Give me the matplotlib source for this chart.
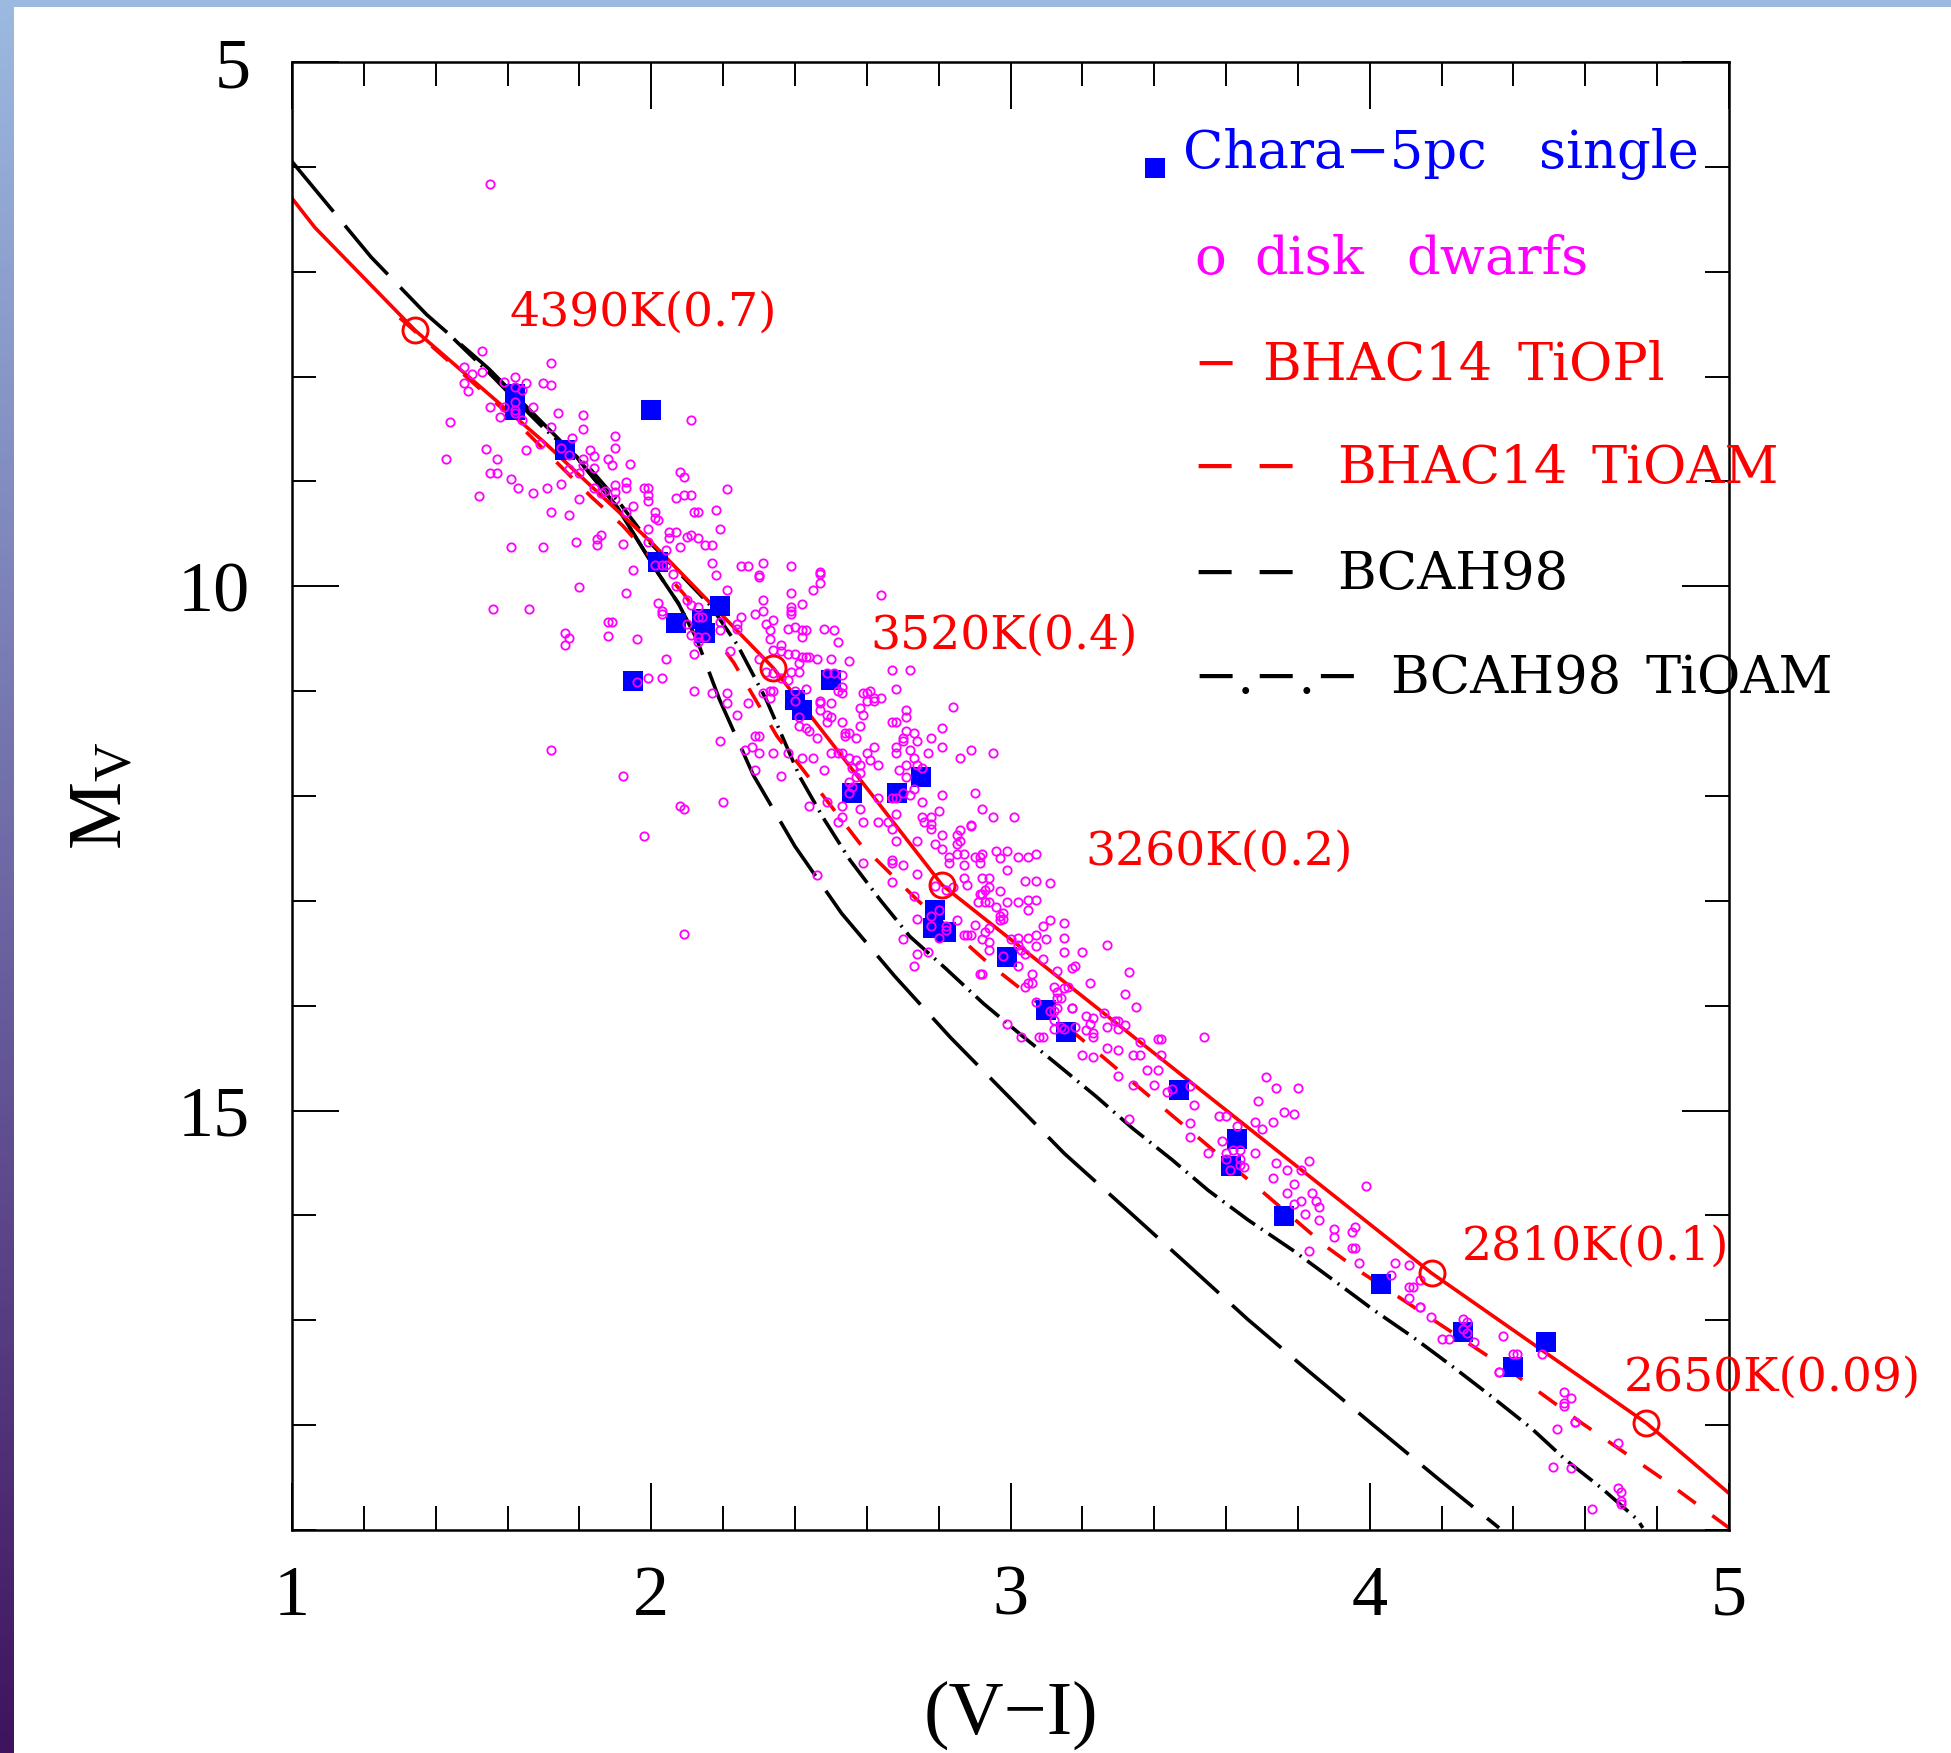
import numpy as np
import matplotlib.pyplot as plt
from matplotlib.colors import LinearSegmentedColormap
from matplotlib.patches import Rectangle

plt.rcParams['font.family'] = ['Liberation Serif', 'DejaVu Serif']
plt.rcParams['mathtext.fontset'] = 'custom'
plt.rcParams['mathtext.rm'] = 'Liberation Serif'
plt.rcParams['mathtext.it'] = 'Liberation Serif:italic'

# ---------------- data: (V-I) colour vs absolute magnitude M_V ----------------

# CHARA 5pc single stars
chara_vi = [1.62, 1.62, 2.00, 1.76, 2.02, 2.19, 2.07, 2.14, 2.15, 1.95, 2.50, 2.40,
            2.42, 2.75, 2.56, 2.685, 2.79, 2.785, 2.82, 2.99, 3.10, 3.154, 3.47,
            3.63, 3.615, 3.76, 4.03, 4.26, 4.49, 4.40]
chara_mv = [8.17, 8.32, 8.32, 8.70, 9.77, 10.19, 10.35, 10.31, 10.45, 10.90, 10.89, 11.08,
            11.18, 11.82, 11.97, 11.97, 13.09, 13.26, 13.30, 13.54, 14.04, 14.25, 14.80,
            15.27, 15.53, 16.01, 16.65, 17.11, 17.21, 17.45]

# field disk dwarfs (V-I, M_V)
disk_dwarfs = [
    (1.55, 6.16), (1.53, 7.76), (1.72, 7.87), (1.48, 7.91), (1.50, 7.98), (1.53, 7.96),
    (1.48, 8.06), (1.49, 8.14), (1.62, 8.00), (1.59, 8.05), (1.62, 8.10), (1.65, 8.06),
    (1.70, 8.06), (1.72, 8.08), (1.64, 8.13), (1.62, 8.24), (1.62, 8.32), (1.59, 8.29),
    (1.62, 8.35), (1.58, 8.39), (1.55, 8.29), (1.67, 8.29), (1.64, 8.41), (1.74, 8.35),
    (1.81, 8.37), (1.44, 8.43), (1.72, 8.48), (1.81, 8.50), (1.90, 8.57), (1.78, 8.59),
    (1.69, 8.64), (1.75, 8.68), (1.77, 8.75), (1.90, 8.68), (1.54, 8.69), (1.65, 8.70),
    (1.83, 8.70), (1.84, 8.76), (1.84, 8.87), (1.81, 8.79), (1.81, 8.84), (1.88, 8.79),
    (1.89, 8.84), (1.94, 8.83), (1.57, 8.79), (1.43, 8.79), (1.77, 8.88), (1.80, 8.92),
    (1.55, 8.92), (1.57, 8.92), (1.61, 8.98), (1.63, 9.06), (1.71, 9.06), (1.75, 9.02),
    (1.67, 9.11), (1.52, 9.14), (1.80, 9.17), (1.84, 9.06), (1.87, 9.09), (1.86, 9.11),
    (1.90, 9.03), (1.90, 9.10), (1.90, 9.17), (1.93, 9.01), (1.93, 9.06), (1.98, 9.06),
    (1.99, 9.06), (1.99, 9.13), (1.99, 9.19), (1.95, 9.23), (1.93, 9.29), (1.72, 9.29),
    (1.77, 9.32), (2.08, 8.91), (2.09, 8.96), (2.21, 9.07), (2.07, 9.16), (2.09, 9.13),
    (2.11, 9.13), (2.12, 9.29), (2.13, 9.29), (2.18, 9.27), (2.19, 9.45), (2.01, 9.29),
    (2.01, 9.35), (2.02, 9.37), (1.99, 9.45), (2.05, 9.48), (2.07, 9.48), (2.05, 9.54),
    (2.10, 9.53), (2.11, 9.51), (2.13, 9.54), (2.15, 9.61), (2.17, 9.61), (2.08, 9.63),
    (2.04, 9.65), (1.99, 9.58), (1.92, 9.60), (1.85, 9.55), (1.86, 9.51), (1.85, 9.61),
    (1.79, 9.58), (1.61, 9.63), (1.70, 9.63), (2.11, 8.41), (1.80, 10.01), (1.56, 10.22),
    (1.66, 10.22), (1.76, 10.45), (1.77, 10.49), (1.76, 10.56), (1.88, 10.34), (1.89, 10.34),
    (1.88, 10.47), (1.72, 11.56),
    (1.95, 9.84), (2.01, 9.80), (2.03, 9.80), (2.04, 9.80), (2.06, 9.88), (2.17, 9.78),
    (2.18, 9.89), (2.25, 9.81), (2.27, 9.81), (2.31, 9.78), (2.30, 9.89), (2.30, 9.91),
    (2.39, 9.81), (2.47, 9.86), (2.47, 9.88), (2.47, 9.97), (2.45, 10.04), (2.39, 10.06),
    (2.21, 10.04), (1.93, 10.06), (2.07, 10.00), (2.02, 10.16), (2.03, 10.24), (2.03, 10.26),
    (2.10, 10.13), (2.11, 10.18), (2.13, 10.20), (2.13, 10.29), (2.14, 10.29), (2.10, 10.36),
    (2.11, 10.46), (2.13, 10.48), (2.15, 10.48), (2.13, 10.53), (2.12, 10.65), (1.96, 10.50),
    (2.04, 10.69), (1.99, 10.87), (2.03, 10.87), (1.96, 10.91), (2.31, 10.13), (2.31, 10.24),
    (2.29, 10.26), (2.34, 10.32), (2.32, 10.36), (2.33, 10.42), (2.33, 10.50), (2.25, 10.29),
    (2.24, 10.36), (2.24, 10.41), (2.19, 10.34), (2.19, 10.42), (2.22, 10.62), (2.39, 10.20),
    (2.39, 10.24), (2.39, 10.26), (2.42, 10.17), (2.38, 10.41), (2.40, 10.39), (2.42, 10.42),
    (2.43, 10.42), (2.42, 10.48), (2.48, 10.41), (2.51, 10.42), (2.52, 10.53), (2.36, 10.56),
    (2.34, 10.61), (2.36, 10.62), (2.38, 10.65), (2.40, 10.65), (2.42, 10.67), (2.43, 10.67),
    (2.44, 10.67), (2.46, 10.69), (2.50, 10.69), (2.55, 10.71), (2.41, 10.73), (2.41, 10.82),
    (2.39, 10.82), (2.32, 10.82), (2.34, 10.83), (2.36, 10.87), (2.38, 10.89), (2.30, 10.69),
    (2.31, 11.02), (2.33, 11.00), (2.34, 11.00), (2.33, 11.07), (2.40, 11.00), (2.43, 10.98),
    (2.40, 11.09), (2.47, 11.09), (2.47, 11.11), (2.50, 11.11), (2.49, 10.83), (2.51, 10.83),
    (2.53, 10.85), (2.53, 10.96), (2.52, 11.00), (2.53, 11.02), (2.49, 11.23), (2.50, 11.25),
    (2.49, 11.29), (2.53, 11.29), (2.47, 11.18), (2.41, 11.25), (2.41, 11.33), (2.43, 11.35),
    (2.44, 11.38), (2.46, 11.45), (2.12, 11.00), (2.17, 11.02), (2.21, 11.02), (2.21, 11.11),
    (2.27, 11.11), (2.24, 11.23), (2.19, 11.48), (2.29, 11.43), (2.30, 11.43), (2.26, 11.56),
    (2.28, 11.53), (2.30, 11.59), (2.34, 11.59), (2.38, 11.59), (2.42, 11.64), (2.45, 11.64),
    (2.48, 11.75), (2.29, 11.75), (2.36, 11.81), (1.92, 11.81), (2.08, 12.10), (2.09, 12.12),
    (2.20, 12.06), (1.98, 12.38), (2.09, 13.32), (2.46, 12.75), (2.44, 12.10), (2.49, 12.06),
    (2.53, 12.10), (2.53, 12.20), (2.52, 12.25), (2.50, 11.59), (2.52, 11.59), (2.53, 11.59),
    (2.55, 11.64), (2.57, 11.66), (2.56, 11.73), (2.58, 11.70), (2.60, 11.59), (2.62, 11.53),
    (2.61, 11.66), (2.63, 11.70), (2.58, 11.78), (2.57, 11.82), (2.55, 11.87), (2.56, 11.91),
    (2.55, 11.97), (2.54, 11.40), (2.55, 11.40), (2.57, 11.45), (2.54, 11.43), (2.58, 11.33),
    (2.59, 11.23), (2.58, 11.16), (2.59, 11.02), (2.60, 11.02), (2.61, 11.00), (2.62, 11.07),
    (2.64, 11.07), (2.60, 11.09), (2.62, 11.09), (2.64, 10.08), (2.67, 10.80), (2.72, 10.80),
    (2.68, 10.98), (2.67, 11.29), (2.68, 11.29), (2.71, 11.18), (2.71, 11.25), (2.71, 11.38),
    (2.73, 11.40), (2.70, 11.45), (2.70, 11.48), (2.74, 11.48), (2.68, 11.53), (2.68, 11.59),
    (2.72, 11.56), (2.77, 11.59), (2.78, 11.45), (2.81, 11.35), (2.81, 11.53), (2.84, 11.15),
    (2.89, 11.56), (2.86, 11.64), (2.95, 11.59), (2.69, 11.75), (2.71, 11.70), (2.73, 11.64),
    (2.74, 11.70), (2.755, 11.73), (2.71, 11.82), (2.73, 11.93), (2.72, 11.99), (2.70, 11.97),
    (2.68, 12.02), (2.67, 12.02), (2.63, 12.02), (2.58, 12.12), (2.59, 12.25), (2.66, 12.25),
    (2.63, 12.25), (2.67, 12.31), (2.68, 12.17), (2.68, 12.43), (2.59, 12.64), (2.67, 12.61),
    (2.67, 12.64), (2.67, 12.82), (2.755, 12.06), (2.81, 11.99), (2.755, 12.20), (2.78, 12.20),
    (2.80, 12.14), (2.90, 11.97), (2.92, 12.12), (2.95, 12.20), (3.01, 12.20),
    (2.76, 12.25), (2.78, 12.27), (2.78, 12.31), (2.89, 12.28), (2.89, 12.29), (2.86, 12.32),
    (2.85, 12.37), (2.81, 12.37), (2.86, 12.43), (2.85, 12.46), (2.79, 12.46), (2.81, 12.51),
    (2.74, 12.43), (2.70, 12.66), (2.74, 12.74), (2.83, 12.58), (2.83, 12.64), (2.87, 12.66),
    (2.85, 12.55), (2.87, 12.55), (2.90, 12.58), (2.915, 12.58), (2.915, 12.64), (2.92, 12.55),
    (2.96, 12.52), (2.99, 12.52), (2.97, 12.59), (3.02, 12.58), (3.05, 12.58), (3.07, 12.55),
    (2.99, 12.71), (2.87, 12.78), (2.92, 12.78), (2.94, 12.78), (2.88, 12.85), (2.915, 12.93),
    (2.92, 12.93), (2.93, 12.90), (2.94, 12.87), (2.97, 12.91), (2.91, 13.01), (2.93, 13.01),
    (2.94, 13.01), (2.96, 13.06), (2.99, 13.01), (3.02, 13.01), (3.05, 12.99), (3.07, 12.99),
    (3.05, 13.09), (3.04, 12.81), (3.07, 12.81), (3.11, 12.83), (2.97, 13.14), (2.98, 13.12),
    (2.98, 13.17), (2.97, 13.18), (2.90, 13.23), (2.93, 13.30), (2.94, 13.26), (2.85, 13.18),
    (2.87, 13.33), (2.88, 13.33), (2.89, 13.33), (2.92, 13.36), (2.94, 13.39), (2.94, 13.47),
    (3.00, 13.36), (3.02, 13.35), (3.02, 13.42), (3.03, 13.47), (3.04, 13.51), (3.05, 13.35),
    (3.07, 13.33), (3.10, 13.36), (3.09, 13.24), (3.11, 13.18), (3.15, 13.21), (3.15, 13.35),
    (3.15, 13.49), (3.20, 13.49), (3.27, 13.42), (3.07, 13.43), (3.09, 13.55), (3.02, 13.62),
    (2.70, 13.36), (2.74, 13.17), (2.74, 13.51), (2.77, 13.49), (2.73, 13.62), (2.915, 13.70),
    (2.92, 13.70), (2.80, 13.09), (2.78, 13.14), (2.78, 13.24), (2.80, 13.35), (2.82, 13.24),
    (2.82, 13.28), (2.84, 12.87), (2.82, 12.90), (2.79, 12.86), (2.73, 12.95), (2.98, 13.53),
    (3.13, 13.67), (3.17, 13.64), (3.18, 13.62), (3.06, 13.70), (3.06, 13.78), (3.05, 13.78),
    (3.04, 13.82), (3.12, 13.82), (3.13, 13.87), (3.15, 13.83), (3.16, 13.82), (3.13, 13.93),
    (3.14, 13.93), (3.22, 13.78), (3.07, 13.96), (3.11, 14.05), (3.12, 14.05), (3.13, 14.02),
    (3.12, 14.14), (3.12, 14.22), (3.14, 14.20), (3.15, 14.22), (3.18, 14.20), (3.17, 14.02),
    (3.17, 14.02), (3.21, 14.10), (3.22, 14.17), (3.23, 14.12), (3.23, 14.26), (3.23, 14.30),
    (3.21, 14.23), (3.26, 14.07), (3.27, 14.20), (3.29, 14.15), (3.30, 14.15), (3.30, 14.22),
    (3.32, 14.18), (3.32, 13.89), (3.33, 13.68), (3.35, 14.01), (2.99, 14.17), (3.03, 14.30),
    (3.08, 14.30), (3.09, 14.30), (3.20, 14.47), (3.23, 14.49), (3.27, 14.40), (3.30, 14.42),
    (3.34, 14.47), (3.36, 14.47), (3.36, 14.35), (3.41, 14.32), (3.42, 14.32), (3.42, 14.47),
    (3.38, 14.61), (3.41, 14.61), (3.30, 14.67), (3.34, 14.76), (3.40, 14.76), (3.435, 14.82),
    (3.45, 14.79), (3.54, 14.30), (3.71, 14.68), (3.33, 15.08),
    (3.50, 14.77), (3.51, 14.95), (3.74, 14.78), (3.80, 14.78), (3.69, 14.91), (3.76, 15.01),
    (3.79, 15.03), (3.58, 15.05), (3.60, 15.05), (3.68, 15.11), (3.70, 15.18), (3.73, 15.11),
    (3.63, 15.15), (3.50, 15.12), (3.50, 15.25), (3.59, 15.29), (3.55, 15.40), (3.60, 15.40),
    (3.62, 15.38), (3.64, 15.38), (3.68, 15.40), (3.60, 15.46), (3.64, 15.46), (3.64, 15.52),
    (3.65, 15.54), (3.61, 15.57), (3.74, 15.50), (3.77, 15.57), (3.81, 15.57), (3.83, 15.48),
    (3.73, 15.64), (3.79, 15.70), (3.77, 15.79), (3.84, 15.79), (3.81, 15.86), (3.79, 15.89),
    (3.85, 15.86), (3.86, 15.92), (3.82, 15.99), (3.86, 16.04), (3.99, 15.72), (3.90, 16.13),
    (3.90, 16.21), (3.96, 16.11), (3.95, 16.16), (3.95, 16.31), (3.96, 16.31), (3.83, 16.34),
    (3.97, 16.45), (4.07, 16.45), (4.11, 16.47), (4.06, 16.57), (4.14, 16.62), (4.11, 16.68),
    (4.12, 16.68), (4.11, 16.79), (4.14, 16.87), (4.14, 16.87), (4.17, 16.97), (4.20, 17.18),
    (4.22, 17.18), (4.26, 16.99), (4.27, 17.02), (4.26, 17.08), (4.27, 17.12), (4.29, 17.21),
    (4.37, 17.15), (4.40, 17.32), (4.41, 17.32), (4.36, 17.49), (4.36, 17.49), (4.48, 17.32),
    (4.54, 17.68), (4.56, 17.74), (4.54, 17.79), (4.54, 17.82), (4.57, 17.97), (4.57, 17.97),
    (4.52, 18.04), (4.69, 18.17), (4.51, 18.40), (4.56, 18.41), (4.62, 18.80), (4.69, 18.60),
    (4.70, 18.64), (4.70, 18.72), (4.70, 18.75),
]
dwarf_vi = [p[0] for p in disk_dwarfs]
dwarf_mv = [p[1] for p in disk_dwarfs]

# BHAC14 isochrones
bhac_tiopl_vi = [1.00, 1.064, 1.343, 1.70, 2.00, 2.340, 2.810, 4.172, 4.770, 5.00]
bhac_tiopl_mv = [6.30, 6.58, 7.56, 8.62, 9.58, 10.78, 12.85, 16.55, 17.98, 18.65]

bhac_tioam_vi = [1.30, 1.60, 1.834, 1.92, 2.09, 2.23, 2.35, 2.47, 2.58, 2.66, 2.74, 2.94,
                 3.04, 3.23, 3.42, 3.70, 3.88, 3.98, 4.39, 4.59, 4.81, 5.00]
bhac_tioam_mv = [7.44, 8.35, 9.15, 9.42, 10.07, 10.73, 11.43, 11.96, 12.45, 12.72, 12.99, 13.60,
                 13.87, 14.41, 14.96, 15.77, 16.30, 16.55, 17.48, 17.98, 18.50, 18.98]

# BCAH98 isochrones
bcah_vi = [1.00, 1.22, 1.375, 1.546, 1.79, 1.904, 2.02, 2.075, 2.126, 2.19, 2.284, 2.40,
           2.53, 2.678, 2.832, 2.99, 3.15, 3.319, 3.49, 3.66, 3.835, 4.01, 4.19, 4.36]
bcah_mv = [5.95, 6.86, 7.41, 7.92, 8.76, 9.24, 9.88, 10.16, 10.50, 11.08, 11.80, 12.48,
           13.12, 13.72, 14.30, 14.85, 15.41, 15.93, 16.46, 16.99, 17.50, 18.00, 18.51, 18.98]

bcah_tioam_vi = [1.45, 1.55, 1.653, 1.70, 1.825, 1.913, 1.99, 2.08, 2.164, 2.24, 2.32, 2.414,
                 2.479, 2.553, 2.637, 2.72, 2.818, 2.925, 3.03, 3.13, 3.24, 3.34, 3.45, 3.55,
                 3.66, 3.785, 3.90, 4.01, 4.12, 4.23, 4.34, 4.45, 4.545, 4.645, 4.745, 4.76]
bcah_tioam_mv = [7.64, 7.97, 8.33, 8.49, 8.86, 9.21, 9.56, 9.88, 10.18, 10.56, 11.08, 11.82,
                 12.21, 12.61, 12.99, 13.34, 13.64, 13.98, 14.28, 14.56, 14.87, 15.17, 15.47, 15.76,
                 16.04, 16.33, 16.62, 16.90, 17.16, 17.44, 17.73, 18.03, 18.33, 18.60, 18.90, 18.98]

# Teff (mass) points along the TiOPl isochrone
teff_vi = [1.343, 2.340, 2.810, 4.172, 4.770]
teff_mv = [7.56, 10.78, 12.85, 16.55, 17.98]
teff_labels = ['4390K(0.7)', '3520K(0.4)', '3260K(0.2)', '2810K(0.1)', '2650K(0.09)']
teff_offsets = [(68, 12.5), (70, 23), (103, 24), (22, 19), (-16, 32.5)]

RED, BLUE, MAG = '#ff0000', '#0000ff', '#ff00ff'
LW = 2.6

# ---------------- figure ----------------
W, H = 1951, 1753
fig = plt.figure(figsize=(W / 100, H / 100), dpi=100)

# slide-style side strip and top bar
strip = fig.add_axes([0, 0, 13 / W, 1])
grad = np.linspace(0, 1, 256).reshape(-1, 1)
strip_cmap = LinearSegmentedColormap.from_list('strip', ['#9cbae0', '#6e68a5', '#3f135e'])
strip.imshow(grad, aspect='auto', cmap=strip_cmap, extent=(0, 1, 0, 1), origin='upper')
strip.set_axis_off()
fig.add_artist(Rectangle((0, 1 - 7 / H), 1, 7 / H, transform=fig.transFigure,
                         facecolor='#9cbae0', edgecolor='none'))

ax = fig.add_axes([292 / W, 1 - 1530 / H, 1437 / W, 1468 / H])

# isochrones (dash lengths are in units of line width)
ax.plot(bcah_vi, bcah_mv, color='black', lw=LW, dashes=(18.0, 5.0), zorder=2)
vi = np.array(bcah_vi)
seg = (vi >= 1.79) & (vi <= 2.075)
ax.plot(vi[seg], np.array(bcah_mv)[seg], color='black', lw=LW, zorder=2)
ax.plot(bcah_tioam_vi, bcah_tioam_mv, color='black', lw=LW, dashes=(8.5, 2.0, 0.55, 2.0), zorder=2)
ax.plot(bhac_tioam_vi, bhac_tioam_mv, color=RED, lw=LW, dashes=(6.1, 5.7), zorder=2)
ax.plot(bhac_tiopl_vi, bhac_tiopl_mv, color=RED, lw=LW, zorder=2)

# stars
ax.plot(chara_vi, chara_mv, 's', color=BLUE, ms=15, mew=0, zorder=3)
ax.plot(dwarf_vi, dwarf_mv, 'o', mfc='none', mec=MAG, ms=6.0, mew=1.3, zorder=4)

# Teff markers and labels
ax.plot(teff_vi, teff_mv, 'o', mfc='none', mec=RED, ms=18, mew=2.1, zorder=5)
for v, m, lab, off in zip(teff_vi, teff_mv, teff_labels, teff_offsets):
    ax.annotate(lab, xy=(v, m), xytext=off, textcoords='offset points',
                ha='left', va='center', color=RED, fontsize=34, family='DejaVu Serif')

# axes
ax.set_xlim(1, 5)
ax.set_ylim(19, 5)
ax.set_xticks([1, 2, 3, 4, 5])
ax.set_xticks(np.arange(1, 5.001, 0.2), minor=True)
ax.set_yticks([5, 10, 15])
ax.set_yticks(np.arange(5, 20, 1), minor=True)
ax.tick_params(which='both', direction='in', top=True, right=True, width=1.4, labelsize=52)
ax.tick_params(which='major', length=34)
ax.tick_params(which='minor', length=17)
ax.tick_params(axis='x', pad=25)
ax.tick_params(axis='y', pad=30)
for s in ax.spines.values():
    s.set_linewidth(1.8)

ax.text(0.5, -0.126, '(V\u2212I)', transform=ax.transAxes, ha='center', va='center', fontsize=55)
fig.text(102 / W, 1 - 796 / H, r'$\mathrm{M_V}$', rotation=90, ha='center', va='center', fontsize=55)

# hand-made key: (text, x, baseline y, colour) in axes fraction
key_entries = [
    ('Chara\u22125pc', 0.6200, 0.9275, BLUE), ('single', 0.8679, 0.9275, BLUE),
    ('o', 0.6277, 0.8554, MAG), ('disk', 0.6700, 0.8554, MAG), ('dwarfs', 0.7753, 0.8554, MAG),
    ('\u2212', 0.6270, 0.7834, RED), ('BHAC14', 0.6752, 0.7834, RED), ('TiOPl', 0.8529, 0.7834, RED),
    ('\u2212 \u2212', 0.6270, 0.7134, RED), ('BHAC14', 0.7273, 0.7134, RED), ('TiOAM', 0.9041, 0.7134, RED),
    ('\u2212 \u2212', 0.6270, 0.6411, 'black'), ('BCAH98', 0.7273, 0.6411, 'black'),
    ('\u2212.\u2212.\u2212', 0.6270, 0.5699, 'black'), ('BCAH98', 0.7642, 0.5699, 'black'),
    ('TiOAM', 0.9416, 0.5699, 'black'),
]
ax.plot([0.6006], [0.9278], 's', color=BLUE, ms=15, mew=0, transform=ax.transAxes, clip_on=False)
for txt, x, y, col in key_entries:
    ax.text(x, y, txt, color=col, fontsize=38, family='DejaVu Serif', va='baseline',
            transform=ax.transAxes)

fig.savefig('out.png', dpi=100)
